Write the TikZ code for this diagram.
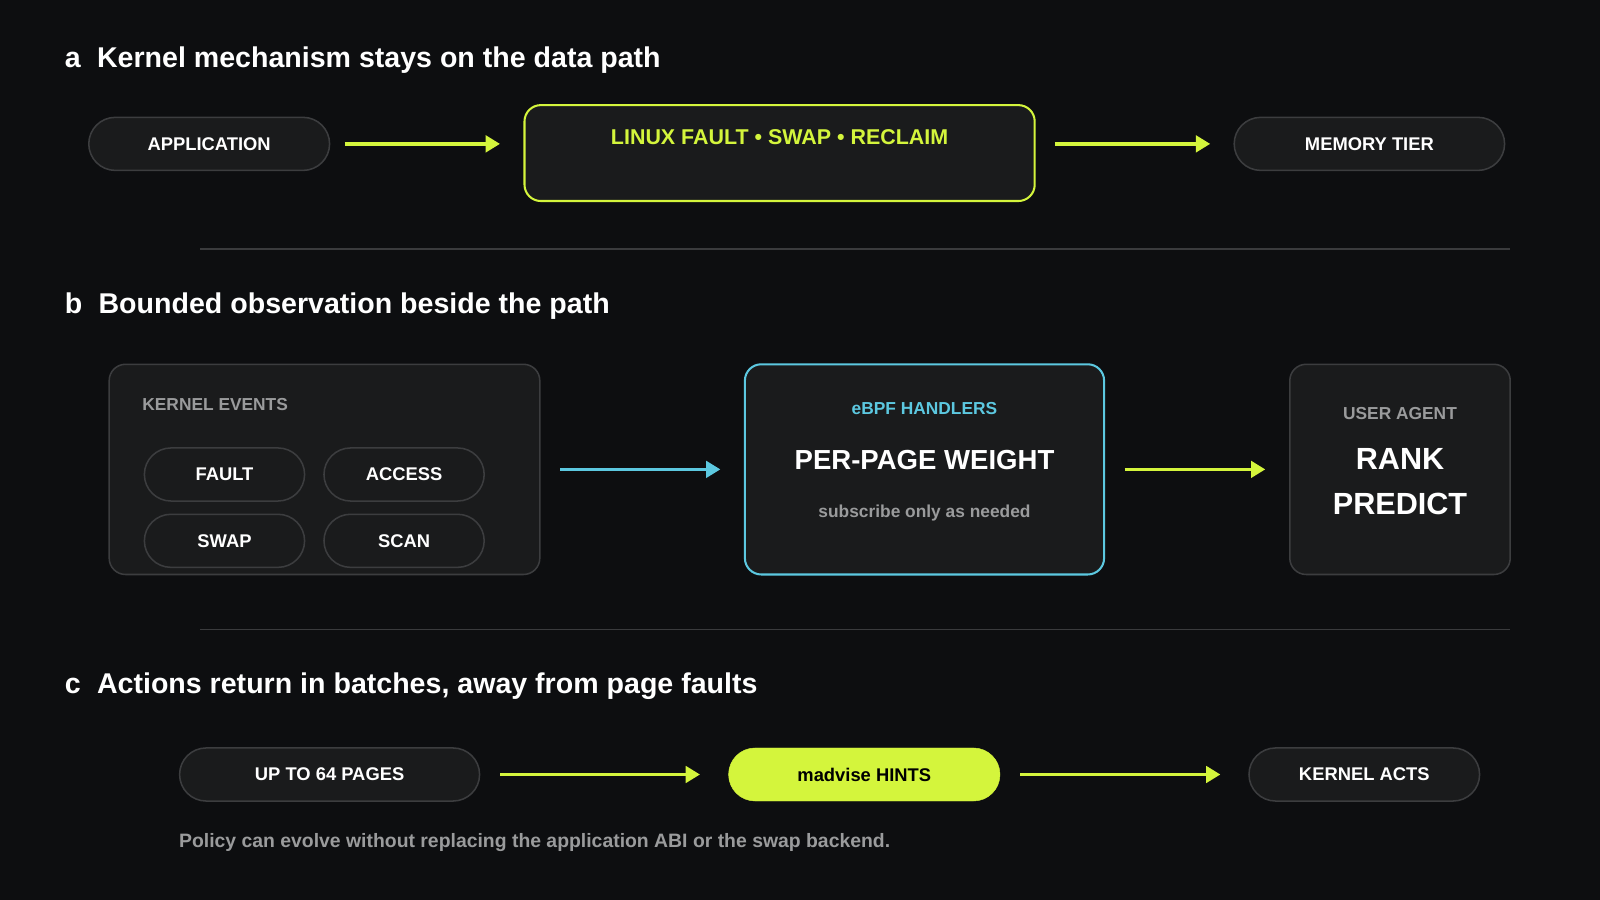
\documentclass[tikz,border=0pt]{standalone}
\usepackage{fontspec}
\setmainfont{Liberation Sans}
\usetikzlibrary{arrows.meta}
\definecolor{bg}{HTML}{0D0E10}
\definecolor{boxf}{HTML}{1A1B1C}
\definecolor{bord}{HTML}{3C3D3F}
\definecolor{lime}{HTML}{D4F53C}
\definecolor{cyan}{HTML}{5CC8E0}
\definecolor{gtxt}{HTML}{9A9B9C}
\definecolor{rule}{HTML}{3A3B3D}
\begin{document}
\begin{tikzpicture}[x=1pt,y=-1pt,
  pill/.style={draw=bord,line width=1.5pt,fill=boxf,rounded corners=26pt,minimum height=52pt,text=white,font=\bfseries\fontsize{18}{20}\selectfont},
  box/.style={draw=bord,line width=1.5pt,fill=boxf,rounded corners=16pt},
  head/.style={anchor=west,text=white,font=\bfseries\fontsize{28}{32}\selectfont},
  arr/.style={line width=3.5pt,-{Triangle[length=14pt,width=16pt]}},
  sub/.style={font=\bfseries\fontsize{17}{20}\selectfont}]
\fill[bg] (0,0) rectangle (1568,882);
\useasboundingbox (0,0) rectangle (1568,882);
% a
\node[head] (ha) at (60,59) {a\hspace{16pt}Kernel mechanism stays on the data path};
\node[pill,minimum width=236pt] (app) at (205,141) {APPLICATION};
\node[draw=lime,line width=2pt,fill=boxf,rounded corners=16pt,minimum width=500pt,minimum height=94pt] (lin) at (764,150) {};
\node[text=lime,font=\bfseries\fontsize{21}{24}\selectfont] (lint) at (764,134) {LINUX FAULT • SWAP • RECLAIM};
\node[pill,minimum width=265pt] (mem) at (1342,141) {MEMORY TIER};
\draw[arr,lime] (338,141) -- (490,141);
\draw[arr,lime] (1034,141) -- (1186,141);
\draw[rule,line width=1.2pt] (196,244) -- (1480,244);
% b
\node[head] (hb) at (60,300) {b\hspace{16pt}Bounded observation beside the path};
\node[box,minimum width=422pt,minimum height=206pt] (ke) at (318,460) {};
\node[anchor=west,text=gtxt,sub] (ket) at (136,396) {KERNEL EVENTS};
\node[pill,minimum width=157pt] (f) at (220,465) {FAULT};
\node[pill,minimum width=157pt] (ac) at (396,465) {ACCESS};
\node[pill,minimum width=157pt] (sw) at (220,530) {SWAP};
\node[pill,minimum width=157pt] (sc) at (396,530) {SCAN};
\node[draw=cyan,line width=2pt,fill=boxf,rounded corners=16pt,minimum width=352pt,minimum height=206pt] (eb) at (906,460) {};
\node[text=cyan,sub] (ebt) at (906,400) {eBPF HANDLERS};
\node[text=white,font=\bfseries\fontsize{27}{30}\selectfont] (ppw) at (906,451) {PER-PAGE WEIGHT};
\node[text=gtxt,sub] (son) at (906,503) {subscribe only as needed};
\node[box,minimum width=216pt,minimum height=206pt] (ua) at (1372,460) {};
\node[text=gtxt,sub] (uat) at (1372,405) {USER AGENT};
\node[text=white,align=center,font=\bfseries\fontsize{30}{44}\selectfont] (rp) at (1372,472) {RANK\\PREDICT};
\draw[arr,cyan] (549,460) -- (706,460);
\draw[arr,lime] (1102,460) -- (1240,460);
\draw[rule,line width=1.2pt] (196,617) -- (1480,617);
% c
\node[head] (hc) at (60,672) {c\hspace{16pt}Actions return in batches, away from page faults};
\node[pill,minimum width=294pt] (up) at (323,759) {UP TO 64 PAGES};
\node[draw=lime,fill=lime,rounded corners=26pt,minimum height=52pt,minimum width=266pt,text=black,font=\bfseries\fontsize{18}{20}\selectfont] (mad) at (847,759) {madvise HINTS};
\node[pill,minimum width=226pt] (ka) at (1337,759) {KERNEL ACTS};
\draw[arr,lime] (490,759) -- (686,759);
\draw[arr,lime] (1000,759) -- (1196,759);
\node[anchor=west,text=gtxt,font=\bfseries\fontsize{19}{22}\selectfont] (pol) at (172,826) {Policy can evolve without replacing the application ABI or the swap backend.};
\end{tikzpicture}
\end{document}
